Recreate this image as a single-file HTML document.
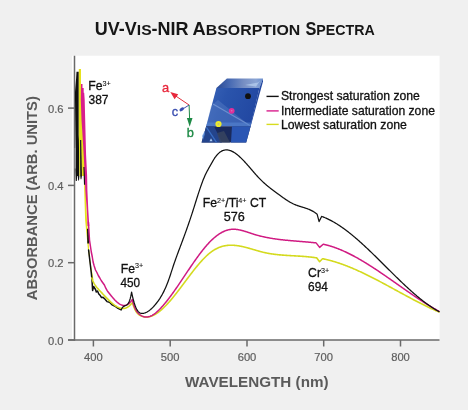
<!DOCTYPE html>
<html><head><meta charset="utf-8">
<style>
html,body{margin:0;padding:0;background:#f0f0f0;}
body{width:468px;height:410px;overflow:hidden;position:relative;}
svg{position:absolute;left:0;top:0;will-change:transform;}
text{font-family:"Liberation Sans",sans-serif;}
</style></head><body>
<svg width="468" height="410" viewBox="0 0 468 410">
<rect x="0" y="0" width="468" height="410" fill="#f0f0f0"/>
<rect x="72" y="55.7" width="367.6" height="284.3" fill="#ffffff"/>
<g font-size="17.6" font-weight="bold" fill="#161616">
<text x="94.8" y="34.7" textLength="93.8" lengthAdjust="spacingAndGlyphs">UV-V<tspan font-size="15.3">IS</tspan>-NIR</text>
<text x="192.6" y="34.7" textLength="107.6" lengthAdjust="spacingAndGlyphs">A<tspan font-size="15.3">BSORPTION</tspan></text>
<text x="305.4" y="34.7" textLength="69.4" lengthAdjust="spacingAndGlyphs">S<tspan font-size="15.3">PECTRA</tspan></text>
</g>
<g stroke="#6a6a6a" stroke-width="1.5" fill="none">
<line x1="74.5" y1="55.7" x2="74.5" y2="340.7"/>
<line x1="68" y1="340" x2="439.5" y2="340"/>
<line x1="93.4" y1="340" x2="93.4" y2="346.5"/><line x1="170.2" y1="340" x2="170.2" y2="346.5"/><line x1="247.0" y1="340" x2="247.0" y2="346.5"/><line x1="323.7" y1="340" x2="323.7" y2="346.5"/><line x1="400.5" y1="340" x2="400.5" y2="346.5"/><line x1="68" y1="340" x2="74.7" y2="340"/><line x1="68" y1="262.7" x2="74.7" y2="262.7"/><line x1="68" y1="185.4" x2="74.7" y2="185.4"/><line x1="68" y1="108.1" x2="74.7" y2="108.1"/>
</g>
<g font-size="11.2" fill="#5e5e5e" stroke="#5e5e5e" stroke-width="0.2" text-anchor="middle"><text x="93.4" y="361">400</text><text x="170.2" y="361">500</text><text x="247.0" y="361">600</text><text x="323.7" y="361">700</text><text x="400.5" y="361">800</text></g>
<g font-size="11.2" fill="#5e5e5e" stroke="#5e5e5e" stroke-width="0.2" text-anchor="end"><text x="63.5" y="344.5">0.0</text><text x="63.5" y="267.2">0.2</text><text x="63.5" y="189.9">0.4</text><text x="63.5" y="112.6">0.6</text></g>
<text transform="translate(36.8,198.2) rotate(-90)" text-anchor="middle" font-size="14.8" textLength="204" lengthAdjust="spacingAndGlyphs" font-weight="bold" fill="#5a5a5a">ABSORBANCE (ARB. UNITS)</text>
<text x="256.8" y="386.6" text-anchor="middle" font-size="15.2" font-weight="bold" fill="#5a5a5a" textLength="143.5" lengthAdjust="spacingAndGlyphs">WAVELENGTH (nm)</text>
<g fill="none" stroke-linejoin="round" stroke-linecap="round">
<polygon points="76.5,71.8 78.8,71.8 78.8,135.0 79.4,150.0 79.4,176.0 79.0,180.6 78.2,180.6 77.8,176.0 77.2,176.0 76.8,181.0 75.8,181.0 75.4,170.0 75.6,148.0 75.0,100.0 75.0,92.0 76.1,78.6" fill="#111"/>
<rect x="74.6" y="148" width="1.2" height="20.5" fill="#9a9a9a"/>
<polygon points="78.8,68.9 81.0,68.9 81.0,90.0 81.8,100.0 82.7,130.0 83.7,145.0 84.8,160.0 85.3,175.0 86.2,200.0 87.0,220.0 89.2,250.0 90.5,262.0 93.5,280.0 92.4,280.9 91.3,275.0 88.0,250.0 85.1,220.0 84.2,190.0 84.0,176.0 79.4,176.0 79.1,155.0 78.8,135.0" fill="#e6e21e"/>
<polygon points="80.0,140.0 81.2,140.0 82.0,176.0 81.4,179.3 80.6,179.3 80.2,176.0" fill="#222"/>
<polygon points="83.4,167.0 85.0,167.0 85.4,184.7 84.0,184.7" fill="#111"/>
<polygon points="81.0,84.0 82.5,84.0 82.5,88.0 83.7,88.0 83.7,92.7 84.2,92.7 84.7,100.0 85.7,140.0 86.1,155.0 87.1,175.0 87.4,190.0 88.3,210.0 89.3,226.0 87.5,226.0 86.8,210.0 85.3,190.0 84.8,175.0 83.7,155.0 82.7,138.0 81.5,120.0 80.8,100.0" fill="#d81e8c"/>
<polygon points="87.0,228.8 88.8,228.8 89.2,243.4 87.3,243.4" fill="#111"/>
<polyline points="88.6,250.0 90.0,262.0 91.2,272.0 92.0,280.0 92.6,290.5 93.6,286.5 95.5,289.5 96.3,292.0 97.5,291.0 98.8,294.0 100.0,295.2 101.5,297.6 103.0,297.2 104.4,298.6 107.0,301.6 109.5,302.3 112.0,304.8 114.6,306.0 118.0,308.3 121.2,309.8" stroke="#111" stroke-width="1.5"/>
<path d="M91.80,278.04 L92.30,279.53 L92.80,280.81 L93.30,281.94 L93.80,282.92 L94.30,283.81 L94.80,284.62 L95.30,285.37 L95.80,286.09 L96.30,286.76 L96.80,287.39 L97.30,288.00 L97.80,288.57 L98.30,289.13 L98.80,289.68 L99.30,290.21 L99.80,290.74 L100.30,291.27 L100.80,291.80 L101.30,292.34 L101.80,292.87 L102.30,293.41 L102.80,293.94 L103.30,294.48 L103.80,295.02 L104.30,295.55 L104.80,296.08 L105.30,296.61 L105.80,297.13 L106.30,297.65 L106.80,298.17 L107.30,298.68 L107.80,299.18 L108.30,299.68 L108.80,300.17 L109.30,300.66 L109.80,301.13 L110.30,301.60 L110.80,302.05 L111.30,302.50 L111.80,302.94 L112.30,303.36 L112.80,303.78 L113.30,304.18 L113.80,304.57 L114.30,304.94 L114.80,305.31 L115.30,305.65 L115.80,305.98 L116.30,306.30 L116.80,306.59 L117.30,306.87 L117.80,307.13 L118.30,307.37 L118.80,307.59 L119.30,307.79 L119.80,307.96 L120.30,308.12 L120.80,308.24 L121.30,308.35 L121.80,308.42 L122.30,308.47 L122.80,308.49 L123.30,308.49 L123.80,308.45 L124.30,308.39 L124.80,308.29 L125.30,308.16 L125.80,308.00 L126.30,307.80 L126.80,307.57 L127.30,307.31 L127.80,307.01 L128.30,306.67 L128.80,306.29 L129.30,305.88 L129.80,305.42 L130.30,304.93 L130.80,304.39 L131.30,303.82 L131.80,303.19 L132.30,302.53 L132.40,302.39 L132.90,304.14 L133.40,305.67 L133.90,307.05 L134.40,308.29 L134.90,309.40 L135.40,310.39 L135.90,311.26 L136.40,312.03 L136.90,312.71 L137.40,313.30 L137.90,313.81 L138.40,314.26 L138.90,314.64 L139.40,314.98 L139.90,315.28 L140.40,315.54 L140.90,315.78 L141.40,316.00 L141.90,316.19 L142.40,316.37 L142.90,316.52 L143.40,316.65 L143.90,316.76 L144.40,316.85 L144.90,316.92 L145.40,316.97 L145.90,317.00 L146.40,317.02 L146.90,317.01 L147.40,316.98 L147.90,316.94 L148.40,316.87 L148.90,316.79 L149.40,316.69 L149.90,316.58 L150.40,316.44 L150.90,316.29 L151.40,316.13 L151.90,315.95 L152.40,315.75 L152.90,315.54 L153.40,315.31 L153.90,315.06 L154.40,314.80 L154.90,314.53 L155.40,314.25 L155.90,313.95 L156.40,313.63 L156.90,313.30 L157.40,312.96 L157.90,312.61 L158.40,312.25 L158.90,311.87 L159.40,311.48 L159.90,311.08 L160.40,310.67 L160.90,310.25 L161.40,309.82 L161.90,309.38 L162.40,308.92 L162.90,308.46 L163.40,307.99 L163.90,307.51 L164.40,307.02 L164.90,306.52 L165.40,306.02 L165.90,305.50 L166.40,304.98 L166.90,304.45 L167.40,303.91 L167.90,303.36 L168.40,302.81 L168.90,302.25 L169.40,301.69 L169.90,301.11 L170.40,300.53 L170.90,299.95 L171.40,299.36 L171.90,298.76 L172.40,298.16 L172.90,297.55 L173.40,296.94 L173.90,296.32 L174.40,295.70 L174.90,295.07 L175.40,294.44 L175.90,293.81 L176.40,293.17 L176.90,292.53 L177.40,291.88 L177.90,291.23 L178.40,290.58 L178.90,289.93 L179.40,289.27 L179.90,288.61 L180.40,287.95 L180.90,287.29 L181.40,286.63 L181.90,285.96 L182.40,285.29 L182.90,284.62 L183.40,283.96 L183.90,283.29 L184.40,282.62 L184.90,281.95 L185.40,281.28 L185.90,280.61 L186.40,279.94 L186.90,279.27 L187.40,278.60 L187.90,277.94 L188.40,277.27 L188.90,276.61 L189.40,275.94 L189.90,275.28 L190.40,274.63 L190.90,273.97 L191.40,273.32 L191.90,272.67 L192.40,272.02 L192.90,271.38 L193.40,270.74 L193.90,270.10 L194.40,269.47 L194.90,268.84 L195.40,268.22 L195.90,267.60 L196.40,266.98 L196.90,266.37 L197.40,265.77 L197.90,265.17 L198.40,264.57 L198.90,263.98 L199.40,263.40 L199.90,262.83 L200.40,262.26 L200.90,261.69 L201.40,261.14 L201.90,260.59 L202.40,260.05 L202.90,259.51 L203.40,258.99 L203.90,258.47 L204.40,257.96 L204.90,257.45 L205.40,256.96 L205.90,256.48 L206.40,256.00 L206.90,255.53 L207.40,255.08 L207.90,254.63 L208.40,254.19 L208.90,253.76 L209.40,253.34 L209.90,252.94 L210.40,252.54 L210.90,252.16 L211.40,251.78 L211.90,251.42 L212.40,251.07 L212.90,250.73 L213.40,250.40 L213.90,250.08 L214.40,249.78 L214.90,249.48 L215.40,249.20 L215.90,248.93 L216.40,248.67 L216.90,248.42 L217.40,248.18 L217.90,247.95 L218.40,247.73 L218.90,247.52 L219.40,247.33 L219.90,247.14 L220.40,246.96 L220.90,246.79 L221.40,246.63 L221.90,246.48 L222.40,246.34 L222.90,246.21 L223.40,246.09 L223.90,245.97 L224.40,245.87 L224.90,245.77 L225.40,245.68 L225.90,245.60 L226.40,245.53 L226.90,245.47 L227.40,245.41 L227.90,245.36 L228.40,245.32 L228.90,245.28 L229.40,245.26 L229.90,245.24 L230.40,245.22 L230.90,245.22 L231.40,245.22 L231.90,245.22 L232.40,245.24 L232.90,245.26 L233.40,245.28 L233.90,245.31 L234.40,245.35 L234.90,245.39 L235.40,245.44 L235.90,245.49 L236.40,245.55 L236.90,245.61 L237.40,245.68 L237.90,245.75 L238.40,245.83 L238.90,245.91 L239.40,246.00 L239.90,246.09 L240.40,246.18 L240.90,246.28 L241.40,246.38 L241.90,246.48 L242.40,246.59 L242.90,246.70 L243.40,246.82 L243.90,246.94 L244.40,247.06 L244.90,247.18 L245.40,247.31 L245.90,247.43 L246.40,247.56 L246.90,247.70 L247.40,247.83 L247.90,247.97 L248.40,248.11 L248.90,248.24 L249.40,248.39 L249.90,248.53 L250.40,248.67 L250.90,248.81 L251.40,248.96 L251.90,249.10 L252.40,249.25 L252.90,249.40 L253.40,249.54 L253.90,249.69 L254.40,249.84 L254.90,249.98 L255.40,250.13 L255.90,250.27 L256.40,250.42 L256.90,250.56 L257.40,250.71 L257.90,250.85 L258.40,250.99 L258.90,251.13 L259.40,251.27 L259.90,251.40 L260.40,251.54 L260.90,251.67 L261.40,251.80 L261.90,251.93 L262.40,252.05 L262.90,252.17 L263.40,252.30 L263.90,252.41 L264.40,252.53 L264.90,252.64 L265.40,252.75 L265.90,252.85 L266.40,252.96 L266.90,253.06 L267.40,253.16 L267.90,253.25 L268.40,253.34 L268.90,253.43 L269.40,253.52 L269.90,253.61 L270.40,253.69 L270.90,253.77 L271.40,253.85 L271.90,253.92 L272.40,254.00 L272.90,254.07 L273.40,254.14 L273.90,254.21 L274.40,254.27 L274.90,254.34 L275.40,254.40 L275.90,254.46 L276.40,254.52 L276.90,254.57 L277.40,254.63 L277.90,254.68 L278.40,254.73 L278.90,254.78 L279.40,254.83 L279.90,254.88 L280.40,254.92 L280.90,254.97 L281.40,255.01 L281.90,255.05 L282.40,255.09 L282.90,255.13 L283.40,255.17 L283.90,255.21 L284.40,255.25 L284.90,255.28 L285.40,255.32 L285.90,255.35 L286.40,255.38 L286.90,255.42 L287.40,255.45 L287.90,255.48 L288.40,255.51 L288.90,255.54 L289.40,255.57 L289.90,255.60 L290.40,255.63 L290.90,255.66 L291.40,255.68 L291.90,255.71 L292.40,255.74 L292.90,255.77 L293.40,255.80 L293.90,255.82 L294.40,255.85 L294.90,255.88 L295.40,255.91 L295.90,255.93 L296.40,255.96 L296.90,255.99 L297.40,256.02 L297.90,256.05 L298.40,256.08 L298.90,256.11 L299.40,256.14 L299.90,256.17 L300.40,256.20 L300.90,256.23 L301.40,256.27 L301.90,256.30 L302.40,256.34 L302.90,256.37 L303.40,256.41 L303.90,256.45 L304.40,256.48 L304.90,256.52 L305.40,256.56 L305.90,256.61 L306.40,256.65 L306.90,256.69 L307.40,256.74 L307.90,256.79 L308.40,256.83 L308.90,256.88 L309.40,256.94 L309.90,256.99 L310.40,257.04 L310.90,257.10 L311.40,257.16 L311.90,257.22 L312.40,257.28 L312.90,257.34 L313.40,257.41 L313.90,257.48 L314.40,257.54 L314.90,257.62 L315.40,257.69 L315.90,257.77 L316.40,257.84 L316.80,257.91 L319.60,261.70 L322.50,258.70 L323.00,258.80 L323.50,258.90 L324.00,259.00 L324.50,259.11 L325.00,259.22 L325.50,259.33 L326.00,259.44 L326.50,259.56 L327.00,259.67 L327.50,259.79 L328.00,259.92 L328.50,260.04 L329.00,260.17 L329.50,260.30 L330.00,260.43 L330.50,260.56 L331.00,260.69 L331.50,260.83 L332.00,260.97 L332.50,261.11 L333.00,261.26 L333.50,261.40 L334.00,261.55 L334.50,261.70 L335.00,261.85 L335.50,262.00 L336.00,262.16 L336.50,262.32 L337.00,262.48 L337.50,262.64 L338.00,262.80 L338.50,262.96 L339.00,263.13 L339.50,263.30 L340.00,263.47 L340.50,263.64 L341.00,263.82 L341.50,263.99 L342.00,264.17 L342.50,264.35 L343.00,264.53 L343.50,264.71 L344.00,264.90 L344.50,265.09 L345.00,265.27 L345.50,265.46 L346.00,265.65 L346.50,265.85 L347.00,266.04 L347.50,266.24 L348.00,266.44 L348.50,266.63 L349.00,266.83 L349.50,267.04 L350.00,267.24 L350.50,267.45 L351.00,267.65 L351.50,267.86 L352.00,268.07 L352.50,268.28 L353.00,268.49 L353.50,268.71 L354.00,268.92 L354.50,269.14 L355.00,269.36 L355.50,269.58 L356.00,269.80 L356.50,270.02 L357.00,270.24 L357.50,270.47 L358.00,270.69 L358.50,270.92 L359.00,271.15 L359.50,271.38 L360.00,271.61 L360.50,271.84 L361.00,272.07 L361.50,272.31 L362.00,272.54 L362.50,272.78 L363.00,273.01 L363.50,273.25 L364.00,273.49 L364.50,273.73 L365.00,273.97 L365.50,274.22 L366.00,274.46 L366.50,274.70 L367.00,274.95 L367.50,275.19 L368.00,275.44 L368.50,275.69 L369.00,275.94 L369.50,276.19 L370.00,276.44 L370.50,276.69 L371.00,276.94 L371.50,277.20 L372.00,277.45 L372.50,277.70 L373.00,277.96 L373.50,278.22 L374.00,278.47 L374.50,278.73 L375.00,278.99 L375.50,279.25 L376.00,279.51 L376.50,279.77 L377.00,280.03 L377.50,280.29 L378.00,280.55 L378.50,280.82 L379.00,281.08 L379.50,281.34 L380.00,281.61 L380.50,281.87 L381.00,282.14 L381.50,282.40 L382.00,282.67 L382.50,282.94 L383.00,283.20 L383.50,283.47 L384.00,283.74 L384.50,284.01 L385.00,284.28 L385.50,284.55 L386.00,284.82 L386.50,285.09 L387.00,285.36 L387.50,285.63 L388.00,285.90 L388.50,286.17 L389.00,286.44 L389.50,286.71 L390.00,286.98 L390.50,287.25 L391.00,287.53 L391.50,287.80 L392.00,288.07 L392.50,288.34 L393.00,288.62 L393.50,288.89 L394.00,289.16 L394.50,289.43 L395.00,289.71 L395.50,289.98 L396.00,290.25 L396.50,290.53 L397.00,290.80 L397.50,291.07 L398.00,291.34 L398.50,291.62 L399.00,291.89 L399.50,292.16 L400.00,292.43 L400.50,292.71 L401.00,292.98 L401.50,293.25 L402.00,293.52 L402.50,293.79 L403.00,294.07 L403.50,294.34 L404.00,294.61 L404.50,294.88 L405.00,295.15 L405.50,295.42 L406.00,295.69 L406.50,295.96 L407.00,296.23 L407.50,296.50 L408.00,296.76 L408.50,297.03 L409.00,297.30 L409.50,297.57 L410.00,297.83 L410.50,298.10 L411.00,298.37 L411.50,298.63 L412.00,298.90 L412.50,299.16 L413.00,299.42 L413.50,299.69 L414.00,299.95 L414.50,300.21 L415.00,300.47 L415.50,300.73 L416.00,300.99 L416.50,301.25 L417.00,301.51 L417.50,301.77 L418.00,302.03 L418.50,302.28 L419.00,302.54 L419.50,302.80 L420.00,303.05 L420.50,303.30 L421.00,303.56 L421.50,303.81 L422.00,304.06 L422.50,304.31 L423.00,304.56 L423.50,304.81 L424.00,305.06 L424.50,305.30 L425.00,305.55 L425.50,305.79 L426.00,306.04 L426.50,306.28 L427.00,306.52 L427.50,306.77 L428.00,307.01 L428.50,307.24 L429.00,307.48 L429.50,307.72 L430.00,307.95 L430.50,308.19 L431.00,308.42 L431.50,308.66 L432.00,308.89 L432.50,309.12 L433.00,309.35 L433.50,309.57 L434.00,309.80 L434.50,310.03 L435.00,310.25 L435.50,310.47 L436.00,310.69 L436.50,310.91 L437.00,311.13 L437.50,311.35 L438.00,311.57 L438.50,311.78 L439.00,311.99" stroke="#d4da1e" stroke-width="1.6"/>
<path d="M88.40,222.00 L89.50,240.00 L91.30,252.00 L92.30,257.00 L93.10,262.00 L94.20,266.00 L95.50,270.00 L96.90,272.50 L98.30,275.50 L99.80,278.00 L101.20,280.50 L102.60,282.50 L104.40,285.00 L105.80,288.20 L107.30,290.90 L107.80,291.54 L108.30,292.18 L108.80,292.81 L109.30,293.44 L109.80,294.07 L110.30,294.70 L110.80,295.32 L111.30,295.93 L111.80,296.54 L112.30,297.13 L112.80,297.72 L113.30,298.29 L113.80,298.85 L114.30,299.39 L114.80,299.92 L115.30,300.44 L115.80,300.93 L116.30,301.41 L116.80,301.87 L117.30,302.30 L117.80,302.71 L118.30,303.10 L118.80,303.47 L119.30,303.80 L119.80,304.11 L120.30,304.39 L120.80,304.64 L121.30,304.86 L121.80,305.05 L122.30,305.20 L122.80,305.32 L123.30,305.41 L123.80,305.45 L124.30,305.46 L124.80,305.43 L125.30,305.35 L125.80,305.24 L126.30,305.08 L126.80,304.87 L127.30,304.62 L127.80,304.33 L128.30,303.98 L128.80,303.59 L129.30,303.15 L129.80,302.65 L130.30,302.10 L130.80,301.50 L131.30,300.84 L131.80,300.12 L132.20,299.51 L132.70,301.47 L133.20,303.21 L133.70,304.77 L134.20,306.17 L134.70,307.43 L135.20,308.56 L135.70,309.55 L136.20,310.44 L136.70,311.23 L137.20,311.93 L137.70,312.55 L138.20,313.11 L138.70,313.61 L139.20,314.07 L139.70,314.49 L140.20,314.88 L140.70,315.23 L141.20,315.55 L141.70,315.84 L142.20,316.09 L142.70,316.32 L143.20,316.51 L143.70,316.67 L144.20,316.80 L144.70,316.90 L145.20,316.98 L145.70,317.02 L146.20,317.04 L146.70,317.03 L147.20,316.99 L147.70,316.93 L148.20,316.84 L148.70,316.73 L149.20,316.59 L149.70,316.43 L150.20,316.25 L150.70,316.04 L151.20,315.82 L151.70,315.57 L152.20,315.30 L152.70,315.01 L153.20,314.70 L153.70,314.38 L154.20,314.03 L154.70,313.67 L155.20,313.29 L155.70,312.89 L156.20,312.48 L156.70,312.05 L157.20,311.61 L157.70,311.16 L158.20,310.69 L158.70,310.21 L159.20,309.71 L159.70,309.21 L160.20,308.69 L160.70,308.16 L161.20,307.63 L161.70,307.08 L162.20,306.52 L162.70,305.96 L163.20,305.39 L163.70,304.81 L164.20,304.22 L164.70,303.63 L165.20,303.02 L165.70,302.42 L166.20,301.80 L166.70,301.17 L167.20,300.54 L167.70,299.91 L168.20,299.26 L168.70,298.61 L169.20,297.96 L169.70,297.30 L170.20,296.63 L170.70,295.96 L171.20,295.28 L171.70,294.60 L172.20,293.91 L172.70,293.22 L173.20,292.52 L173.70,291.82 L174.20,291.11 L174.70,290.41 L175.20,289.69 L175.70,288.98 L176.20,288.26 L176.70,287.53 L177.20,286.81 L177.70,286.08 L178.20,285.35 L178.70,284.61 L179.20,283.88 L179.70,283.14 L180.20,282.40 L180.70,281.66 L181.20,280.91 L181.70,280.17 L182.20,279.42 L182.70,278.68 L183.20,277.93 L183.70,277.18 L184.20,276.43 L184.70,275.68 L185.20,274.94 L185.70,274.19 L186.20,273.44 L186.70,272.69 L187.20,271.94 L187.70,271.20 L188.20,270.45 L188.70,269.71 L189.20,268.97 L189.70,268.23 L190.20,267.49 L190.70,266.75 L191.20,266.02 L191.70,265.28 L192.20,264.55 L192.70,263.83 L193.20,263.10 L193.70,262.38 L194.20,261.66 L194.70,260.95 L195.20,260.24 L195.70,259.53 L196.20,258.83 L196.70,258.13 L197.20,257.44 L197.70,256.75 L198.20,256.07 L198.70,255.39 L199.20,254.71 L199.70,254.04 L200.20,253.38 L200.70,252.72 L201.20,252.07 L201.70,251.43 L202.20,250.79 L202.70,250.15 L203.20,249.53 L203.70,248.91 L204.20,248.30 L204.70,247.69 L205.20,247.09 L205.70,246.50 L206.20,245.92 L206.70,245.35 L207.20,244.78 L207.70,244.22 L208.20,243.67 L208.70,243.13 L209.20,242.60 L209.70,242.08 L210.20,241.57 L210.70,241.06 L211.20,240.57 L211.70,240.08 L212.20,239.61 L212.70,239.14 L213.20,238.68 L213.70,238.24 L214.20,237.80 L214.70,237.37 L215.20,236.96 L215.70,236.55 L216.20,236.15 L216.70,235.76 L217.20,235.39 L217.70,235.02 L218.20,234.67 L218.70,234.32 L219.20,233.99 L219.70,233.66 L220.20,233.35 L220.70,233.05 L221.20,232.76 L221.70,232.48 L222.20,232.21 L222.70,231.95 L223.20,231.71 L223.70,231.47 L224.20,231.25 L224.70,231.04 L225.20,230.84 L225.70,230.65 L226.20,230.47 L226.70,230.31 L227.20,230.16 L227.70,230.02 L228.20,229.89 L228.70,229.77 L229.20,229.67 L229.70,229.57 L230.20,229.50 L230.70,229.43 L231.20,229.37 L231.70,229.33 L232.20,229.30 L232.70,229.28 L233.20,229.27 L233.70,229.27 L234.20,229.28 L234.70,229.30 L235.20,229.33 L235.70,229.37 L236.20,229.42 L236.70,229.47 L237.20,229.54 L237.70,229.61 L238.20,229.69 L238.70,229.78 L239.20,229.88 L239.70,229.98 L240.20,230.08 L240.70,230.20 L241.20,230.32 L241.70,230.44 L242.20,230.57 L242.70,230.71 L243.20,230.84 L243.70,230.99 L244.20,231.13 L244.70,231.28 L245.20,231.44 L245.70,231.59 L246.20,231.75 L246.70,231.91 L247.20,232.07 L247.70,232.24 L248.20,232.40 L248.70,232.57 L249.20,232.73 L249.70,232.90 L250.20,233.07 L250.70,233.23 L251.20,233.40 L251.70,233.56 L252.20,233.73 L252.70,233.89 L253.20,234.05 L253.70,234.21 L254.20,234.36 L254.70,234.51 L255.20,234.66 L255.70,234.81 L256.20,234.95 L256.70,235.10 L257.20,235.24 L257.70,235.37 L258.20,235.51 L258.70,235.64 L259.20,235.77 L259.70,235.90 L260.20,236.03 L260.70,236.15 L261.20,236.27 L261.70,236.39 L262.20,236.51 L262.70,236.62 L263.20,236.74 L263.70,236.85 L264.20,236.96 L264.70,237.07 L265.20,237.17 L265.70,237.28 L266.20,237.38 L266.70,237.48 L267.20,237.57 L267.70,237.67 L268.20,237.77 L268.70,237.86 L269.20,237.95 L269.70,238.04 L270.20,238.13 L270.70,238.21 L271.20,238.30 L271.70,238.38 L272.20,238.46 L272.70,238.54 L273.20,238.62 L273.70,238.70 L274.20,238.77 L274.70,238.85 L275.20,238.92 L275.70,238.99 L276.20,239.06 L276.70,239.13 L277.20,239.20 L277.70,239.26 L278.20,239.33 L278.70,239.39 L279.20,239.45 L279.70,239.52 L280.20,239.58 L280.70,239.64 L281.20,239.69 L281.70,239.75 L282.20,239.81 L282.70,239.86 L283.20,239.92 L283.70,239.97 L284.20,240.03 L284.70,240.08 L285.20,240.13 L285.70,240.18 L286.20,240.23 L286.70,240.28 L287.20,240.33 L287.70,240.37 L288.20,240.42 L288.70,240.47 L289.20,240.51 L289.70,240.56 L290.20,240.60 L290.70,240.65 L291.20,240.69 L291.70,240.73 L292.20,240.78 L292.70,240.82 L293.20,240.86 L293.70,240.90 L294.20,240.95 L294.70,240.99 L295.20,241.03 L295.70,241.07 L296.20,241.11 L296.70,241.15 L297.20,241.19 L297.70,241.23 L298.20,241.27 L298.70,241.31 L299.20,241.35 L299.70,241.39 L300.20,241.43 L300.70,241.47 L301.20,241.51 L301.70,241.55 L302.20,241.59 L302.70,241.64 L303.20,241.68 L303.70,241.72 L304.20,241.76 L304.70,241.80 L305.20,241.84 L305.70,241.89 L306.20,241.93 L306.70,241.97 L307.20,242.02 L307.70,242.06 L308.20,242.11 L308.70,242.15 L309.20,242.20 L309.70,242.24 L310.20,242.29 L310.70,242.34 L311.20,242.39 L311.70,242.44 L312.20,242.49 L312.70,242.54 L313.20,242.59 L313.70,242.64 L314.20,242.69 L314.70,242.75 L315.20,242.80 L315.70,242.86 L316.10,242.90 L319.60,247.40 L323.20,244.20 L323.70,244.30 L324.20,244.41 L324.70,244.53 L325.20,244.65 L325.70,244.77 L326.20,244.90 L326.70,245.02 L327.20,245.16 L327.70,245.29 L328.20,245.43 L328.70,245.57 L329.20,245.71 L329.70,245.86 L330.20,246.01 L330.70,246.16 L331.20,246.32 L331.70,246.47 L332.20,246.64 L332.70,246.80 L333.20,246.97 L333.70,247.14 L334.20,247.31 L334.70,247.49 L335.20,247.67 L335.70,247.85 L336.20,248.03 L336.70,248.22 L337.20,248.41 L337.70,248.60 L338.20,248.79 L338.70,248.99 L339.20,249.19 L339.70,249.39 L340.20,249.60 L340.70,249.81 L341.20,250.02 L341.70,250.23 L342.20,250.45 L342.70,250.66 L343.20,250.88 L343.70,251.11 L344.20,251.33 L344.70,251.56 L345.20,251.79 L345.70,252.02 L346.20,252.25 L346.70,252.49 L347.20,252.73 L347.70,252.97 L348.20,253.21 L348.70,253.46 L349.20,253.71 L349.70,253.95 L350.20,254.21 L350.70,254.46 L351.20,254.72 L351.70,254.97 L352.20,255.23 L352.70,255.50 L353.20,255.76 L353.70,256.03 L354.20,256.29 L354.70,256.56 L355.20,256.84 L355.70,257.11 L356.20,257.38 L356.70,257.66 L357.20,257.94 L357.70,258.22 L358.20,258.50 L358.70,258.79 L359.20,259.07 L359.70,259.36 L360.20,259.65 L360.70,259.94 L361.20,260.24 L361.70,260.53 L362.20,260.83 L362.70,261.12 L363.20,261.42 L363.70,261.72 L364.20,262.02 L364.70,262.33 L365.20,262.63 L365.70,262.94 L366.20,263.25 L366.70,263.56 L367.20,263.87 L367.70,264.18 L368.20,264.49 L368.70,264.81 L369.20,265.12 L369.70,265.44 L370.20,265.76 L370.70,266.07 L371.20,266.40 L371.70,266.72 L372.20,267.04 L372.70,267.36 L373.20,267.69 L373.70,268.01 L374.20,268.34 L374.70,268.67 L375.20,269.00 L375.70,269.33 L376.20,269.66 L376.70,269.99 L377.20,270.33 L377.70,270.66 L378.20,270.99 L378.70,271.33 L379.20,271.67 L379.70,272.00 L380.20,272.34 L380.70,272.68 L381.20,273.02 L381.70,273.36 L382.20,273.70 L382.70,274.04 L383.20,274.38 L383.70,274.73 L384.20,275.07 L384.70,275.41 L385.20,275.76 L385.70,276.10 L386.20,276.45 L386.70,276.79 L387.20,277.14 L387.70,277.49 L388.20,277.83 L388.70,278.18 L389.20,278.53 L389.70,278.88 L390.20,279.23 L390.70,279.58 L391.20,279.93 L391.70,280.28 L392.20,280.63 L392.70,280.98 L393.20,281.33 L393.70,281.68 L394.20,282.03 L394.70,282.38 L395.20,282.73 L395.70,283.08 L396.20,283.43 L396.70,283.78 L397.20,284.13 L397.70,284.48 L398.20,284.84 L398.70,285.19 L399.20,285.54 L399.70,285.89 L400.20,286.24 L400.70,286.59 L401.20,286.94 L401.70,287.29 L402.20,287.64 L402.70,287.99 L403.20,288.34 L403.70,288.69 L404.20,289.04 L404.70,289.39 L405.20,289.74 L405.70,290.08 L406.20,290.43 L406.70,290.78 L407.20,291.13 L407.70,291.47 L408.20,291.82 L408.70,292.16 L409.20,292.51 L409.70,292.85 L410.20,293.20 L410.70,293.54 L411.20,293.88 L411.70,294.22 L412.20,294.57 L412.70,294.91 L413.20,295.25 L413.70,295.59 L414.20,295.92 L414.70,296.26 L415.20,296.60 L415.70,296.93 L416.20,297.27 L416.70,297.60 L417.20,297.94 L417.70,298.27 L418.20,298.60 L418.70,298.93 L419.20,299.26 L419.70,299.59 L420.20,299.92 L420.70,300.25 L421.20,300.57 L421.70,300.90 L422.20,301.22 L422.70,301.54 L423.20,301.87 L423.70,302.19 L424.20,302.50 L424.70,302.82 L425.20,303.14 L425.70,303.45 L426.20,303.77 L426.70,304.08 L427.20,304.39 L427.70,304.70 L428.20,305.01 L428.70,305.32 L429.20,305.62 L429.70,305.93 L430.20,306.23 L430.70,306.53 L431.20,306.83 L431.70,307.13 L432.20,307.43 L432.70,307.73 L433.20,308.02 L433.70,308.31 L434.20,308.60 L434.70,308.89 L435.20,309.18 L435.70,309.46 L436.20,309.75 L436.70,310.03 L437.20,310.31 L437.70,310.59 L438.20,310.87 L438.70,311.14 L439.00,311.31" stroke="#d01a82" stroke-width="1.5"/>
<path d="M121.20,309.81 L121.70,308.76 L122.20,307.93 L122.70,307.28 L123.20,306.78 L123.70,306.40 L124.20,306.11 L124.70,305.89 L125.20,305.69 L125.70,305.50 L126.20,305.28 L126.70,305.00 L127.20,304.62 L127.70,304.13 L128.20,303.49 L128.70,302.65 L129.20,301.59 L129.70,300.26 L130.20,298.64 L130.70,296.69 L131.20,294.36 L131.60,292.21 L132.10,294.57 L132.60,296.80 L133.10,298.86 L133.60,300.76 L134.10,302.51 L134.60,304.09 L135.10,305.53 L135.60,306.83 L136.10,307.98 L136.60,309.00 L137.10,309.90 L137.60,310.67 L138.10,311.33 L138.60,311.89 L139.10,312.35 L139.60,312.73 L140.10,313.01 L140.60,313.22 L141.10,313.37 L141.60,313.45 L142.10,313.47 L142.60,313.45 L143.10,313.39 L143.60,313.29 L144.10,313.17 L144.60,313.02 L145.10,312.85 L145.60,312.65 L146.10,312.43 L146.60,312.19 L147.10,311.93 L147.60,311.64 L148.10,311.33 L148.60,311.00 L149.10,310.64 L149.60,310.27 L150.10,309.87 L150.60,309.46 L151.10,309.02 L151.60,308.57 L152.10,308.09 L152.60,307.60 L153.10,307.09 L153.60,306.56 L154.10,306.01 L154.60,305.44 L155.10,304.86 L155.60,304.26 L156.10,303.64 L156.60,303.01 L157.10,302.36 L157.60,301.70 L158.10,301.01 L158.60,300.31 L159.10,299.58 L159.60,298.84 L160.10,298.06 L160.60,297.27 L161.10,296.44 L161.60,295.59 L162.10,294.71 L162.60,293.80 L163.10,292.86 L163.60,291.88 L164.10,290.87 L164.60,289.83 L165.10,288.75 L165.60,287.63 L166.10,286.48 L166.60,285.28 L167.10,284.04 L167.60,282.76 L168.10,281.44 L168.60,280.06 L169.10,278.65 L169.60,277.20 L170.10,275.71 L170.60,274.21 L171.10,272.68 L171.60,271.15 L172.10,269.61 L172.60,268.08 L173.10,266.56 L173.60,265.05 L174.10,263.57 L174.60,262.12 L175.10,260.68 L175.60,259.27 L176.10,257.87 L176.60,256.50 L177.10,255.13 L177.60,253.78 L178.10,252.43 L178.60,251.09 L179.10,249.76 L179.60,248.43 L180.10,247.11 L180.60,245.78 L181.10,244.44 L181.60,243.11 L182.10,241.77 L182.60,240.42 L183.10,239.08 L183.60,237.72 L184.10,236.36 L184.60,234.99 L185.10,233.62 L185.60,232.23 L186.10,230.84 L186.60,229.44 L187.10,228.03 L187.60,226.62 L188.10,225.19 L188.60,223.75 L189.10,222.30 L189.60,220.83 L190.10,219.36 L190.60,217.87 L191.10,216.37 L191.60,214.86 L192.10,213.33 L192.60,211.79 L193.10,210.23 L193.60,208.66 L194.10,207.08 L194.60,205.50 L195.10,203.91 L195.60,202.31 L196.10,200.73 L196.60,199.14 L197.10,197.56 L197.60,195.99 L198.10,194.43 L198.60,192.89 L199.10,191.37 L199.60,189.86 L200.10,188.38 L200.60,186.92 L201.10,185.49 L201.60,184.09 L202.10,182.72 L202.60,181.39 L203.10,180.10 L203.60,178.85 L204.10,177.65 L204.60,176.49 L205.10,175.37 L205.60,174.30 L206.10,173.27 L206.60,172.27 L207.10,171.30 L207.60,170.35 L208.10,169.43 L208.60,168.52 L209.10,167.62 L209.60,166.73 L210.10,165.85 L210.60,164.97 L211.10,164.08 L211.60,163.20 L212.10,162.32 L212.60,161.45 L213.10,160.60 L213.60,159.78 L214.10,158.97 L214.60,158.20 L215.10,157.46 L215.60,156.76 L216.10,156.10 L216.60,155.48 L217.10,154.89 L217.60,154.34 L218.10,153.82 L218.60,153.34 L219.10,152.89 L219.60,152.48 L220.10,152.10 L220.60,151.76 L221.10,151.44 L221.60,151.16 L222.10,150.90 L222.60,150.68 L223.10,150.49 L223.60,150.32 L224.10,150.19 L224.60,150.08 L225.10,150.00 L225.60,149.94 L226.10,149.91 L226.60,149.91 L227.10,149.93 L227.60,149.97 L228.10,150.04 L228.60,150.13 L229.10,150.25 L229.60,150.38 L230.10,150.53 L230.60,150.71 L231.10,150.90 L231.60,151.12 L232.10,151.35 L232.60,151.60 L233.10,151.87 L233.60,152.15 L234.10,152.45 L234.60,152.77 L235.10,153.10 L235.60,153.45 L236.10,153.81 L236.60,154.19 L237.10,154.57 L237.60,154.98 L238.10,155.39 L238.60,155.82 L239.10,156.26 L239.60,156.71 L240.10,157.17 L240.60,157.64 L241.10,158.12 L241.60,158.61 L242.10,159.11 L242.60,159.62 L243.10,160.13 L243.60,160.66 L244.10,161.19 L244.60,161.72 L245.10,162.27 L245.60,162.82 L246.10,163.37 L246.60,163.93 L247.10,164.49 L247.60,165.06 L248.10,165.63 L248.60,166.21 L249.10,166.78 L249.60,167.36 L250.10,167.94 L250.60,168.52 L251.10,169.11 L251.60,169.69 L252.10,170.27 L252.60,170.85 L253.10,171.43 L253.60,172.01 L254.10,172.59 L254.60,173.16 L255.10,173.73 L255.60,174.30 L256.10,174.86 L256.60,175.42 L257.10,175.98 L257.60,176.53 L258.10,177.07 L258.60,177.61 L259.10,178.14 L259.60,178.66 L260.10,179.18 L260.60,179.68 L261.10,180.18 L261.60,180.67 L262.10,181.16 L262.60,181.63 L263.10,182.10 L263.60,182.56 L264.10,183.01 L264.60,183.46 L265.10,183.90 L265.60,184.33 L266.10,184.76 L266.60,185.19 L267.10,185.60 L267.60,186.02 L268.10,186.42 L268.60,186.83 L269.10,187.23 L269.60,187.62 L270.10,188.01 L270.60,188.40 L271.10,188.79 L271.60,189.17 L272.10,189.55 L272.60,189.93 L273.10,190.30 L273.60,190.67 L274.10,191.05 L274.60,191.42 L275.10,191.79 L275.60,192.15 L276.10,192.52 L276.60,192.89 L277.10,193.26 L277.60,193.63 L278.10,194.00 L278.60,194.37 L279.10,194.73 L279.60,195.10 L280.10,195.47 L280.60,195.84 L281.10,196.20 L281.60,196.57 L282.10,196.93 L282.60,197.29 L283.10,197.65 L283.60,198.00 L284.10,198.35 L284.60,198.70 L285.10,199.04 L285.60,199.38 L286.10,199.72 L286.60,200.05 L287.10,200.38 L287.60,200.70 L288.10,201.02 L288.60,201.33 L289.10,201.63 L289.60,201.93 L290.10,202.22 L290.60,202.50 L291.10,202.78 L291.60,203.05 L292.10,203.31 L292.60,203.56 L293.10,203.81 L293.60,204.04 L294.10,204.27 L294.60,204.49 L295.10,204.70 L295.60,204.90 L296.10,205.09 L296.60,205.28 L297.10,205.46 L297.60,205.64 L298.10,205.81 L298.60,205.97 L299.10,206.14 L299.60,206.30 L300.10,206.45 L300.60,206.61 L301.10,206.76 L301.60,206.91 L302.10,207.06 L302.60,207.21 L303.10,207.36 L303.60,207.51 L304.10,207.67 L304.60,207.83 L305.10,207.99 L305.60,208.15 L306.10,208.32 L306.60,208.49 L307.10,208.67 L307.60,208.85 L308.10,209.04 L308.60,209.23 L309.10,209.44 L309.60,209.65 L310.10,209.87 L310.60,210.10 L311.10,210.34 L311.60,210.59 L312.10,210.85 L312.60,211.12 L313.10,211.41 L313.60,211.70 L314.10,212.01 L314.60,212.34 L315.10,212.68 L315.60,213.03 L316.10,213.40 L316.60,213.78 L317.10,214.18 L317.10,214.18 L319.10,221.60 L321.60,216.40 L322.10,216.56 L322.60,216.74 L323.10,216.93 L323.60,217.13 L324.10,217.33 L324.60,217.53 L325.10,217.74 L325.60,217.96 L326.10,218.17 L326.60,218.40 L327.10,218.62 L327.60,218.86 L328.10,219.09 L328.60,219.34 L329.10,219.58 L329.60,219.83 L330.10,220.09 L330.60,220.35 L331.10,220.61 L331.60,220.88 L332.10,221.15 L332.60,221.43 L333.10,221.71 L333.60,221.99 L334.10,222.28 L334.60,222.57 L335.10,222.87 L335.60,223.17 L336.10,223.47 L336.60,223.78 L337.10,224.09 L337.60,224.41 L338.10,224.73 L338.60,225.05 L339.10,225.38 L339.60,225.71 L340.10,226.04 L340.60,226.38 L341.10,226.72 L341.60,227.07 L342.10,227.42 L342.60,227.77 L343.10,228.12 L343.60,228.48 L344.10,228.84 L344.60,229.21 L345.10,229.58 L345.60,229.95 L346.10,230.32 L346.60,230.70 L347.10,231.08 L347.60,231.46 L348.10,231.85 L348.60,232.24 L349.10,232.63 L349.60,233.03 L350.10,233.43 L350.60,233.83 L351.10,234.23 L351.60,234.64 L352.10,235.05 L352.60,235.46 L353.10,235.87 L353.60,236.29 L354.10,236.71 L354.60,237.13 L355.10,237.55 L355.60,237.98 L356.10,238.41 L356.60,238.84 L357.10,239.27 L357.60,239.71 L358.10,240.15 L358.60,240.59 L359.10,241.03 L359.60,241.47 L360.10,241.92 L360.60,242.37 L361.10,242.82 L361.60,243.27 L362.10,243.72 L362.60,244.18 L363.10,244.64 L363.60,245.10 L364.10,245.56 L364.60,246.02 L365.10,246.48 L365.60,246.95 L366.10,247.42 L366.60,247.89 L367.10,248.36 L367.60,248.83 L368.10,249.30 L368.60,249.78 L369.10,250.25 L369.60,250.73 L370.10,251.21 L370.60,251.69 L371.10,252.17 L371.60,252.65 L372.10,253.14 L372.60,253.62 L373.10,254.11 L373.60,254.59 L374.10,255.08 L374.60,255.57 L375.10,256.06 L375.60,256.55 L376.10,257.04 L376.60,257.53 L377.10,258.02 L377.60,258.51 L378.10,259.00 L378.60,259.50 L379.10,259.99 L379.60,260.49 L380.10,260.98 L380.60,261.48 L381.10,261.98 L381.60,262.47 L382.10,262.97 L382.60,263.47 L383.10,263.96 L383.60,264.46 L384.10,264.96 L384.60,265.46 L385.10,265.95 L385.60,266.45 L386.10,266.95 L386.60,267.45 L387.10,267.94 L387.60,268.44 L388.10,268.94 L388.60,269.44 L389.10,269.93 L389.60,270.43 L390.10,270.93 L390.60,271.42 L391.10,271.92 L391.60,272.41 L392.10,272.91 L392.60,273.40 L393.10,273.90 L393.60,274.39 L394.10,274.88 L394.60,275.37 L395.10,275.86 L395.60,276.35 L396.10,276.84 L396.60,277.33 L397.10,277.82 L397.60,278.31 L398.10,278.79 L398.60,279.28 L399.10,279.76 L399.60,280.24 L400.10,280.73 L400.60,281.21 L401.10,281.69 L401.60,282.16 L402.10,282.64 L402.60,283.12 L403.10,283.59 L403.60,284.06 L404.10,284.54 L404.60,285.01 L405.10,285.47 L405.60,285.94 L406.10,286.41 L406.60,286.87 L407.10,287.33 L407.60,287.79 L408.10,288.25 L408.60,288.71 L409.10,289.16 L409.60,289.62 L410.10,290.07 L410.60,290.52 L411.10,290.96 L411.60,291.41 L412.10,291.85 L412.60,292.29 L413.10,292.73 L413.60,293.17 L414.10,293.61 L414.60,294.04 L415.10,294.47 L415.60,294.90 L416.10,295.32 L416.60,295.74 L417.10,296.17 L417.60,296.58 L418.10,297.00 L418.60,297.41 L419.10,297.82 L419.60,298.23 L420.10,298.64 L420.60,299.04 L421.10,299.44 L421.60,299.84 L422.10,300.23 L422.60,300.62 L423.10,301.01 L423.60,301.40 L424.10,301.78 L424.60,302.16 L425.10,302.53 L425.60,302.91 L426.10,303.28 L426.60,303.64 L427.10,304.01 L427.60,304.37 L428.10,304.73 L428.60,305.08 L429.10,305.43 L429.60,305.78 L430.10,306.12 L430.60,306.46 L431.10,306.80 L431.60,307.13 L432.10,307.46 L432.60,307.78 L433.10,308.11 L433.60,308.42 L434.10,308.74 L434.60,309.05 L435.10,309.36 L435.60,309.66 L436.10,309.96 L436.60,310.25 L437.10,310.54 L437.60,310.83 L438.10,311.11 L438.60,311.39 L439.00,311.61" stroke="#111" stroke-width="1.25"/>
</g>
<g font-size="12.2" fill="#111" stroke="#111" stroke-width="0.3">
<text x="88.3" y="89.9">Fe<tspan font-size="7.2" dy="-4.3" stroke-width="0.1">3+</tspan></text>
<text x="88.5" y="104.3" textLength="20" lengthAdjust="spacingAndGlyphs">387</text>
<text x="120.7" y="272.7">Fe<tspan font-size="7.2" dy="-4.3" stroke-width="0.1">3+</tspan></text>
<text x="120.4" y="287.1" textLength="19.6" lengthAdjust="spacingAndGlyphs">450</text>
<text x="234.5" y="206.8" text-anchor="middle">Fe<tspan font-size="7.2" dy="-4.3" stroke-width="0.1">2+</tspan><tspan dy="4.3">/Ti</tspan><tspan font-size="7.2" dy="-4.3" stroke-width="0.1">4+</tspan><tspan dy="4.3"> CT</tspan></text>
<text x="234.3" y="221.3" text-anchor="middle" textLength="21" lengthAdjust="spacingAndGlyphs">576</text>
<text x="308.1" y="277">Cr<tspan font-size="7.2" dy="-4.3" stroke-width="0.1">3+</tspan></text>
<text x="308.1" y="290.9" textLength="19.8" lengthAdjust="spacingAndGlyphs">694</text>
</g>
<g stroke-width="1.4">
<line x1="266.5" y1="96.4" x2="278.7" y2="96.4" stroke="#111"/>
<line x1="266.5" y1="110.9" x2="278.7" y2="110.9" stroke="#d81e8c"/>
<line x1="266.5" y1="124.4" x2="278.7" y2="124.4" stroke="#d8dc1e"/>
</g>
<g font-size="12.2" fill="#111" stroke="#111" stroke-width="0.3">
<text x="280.9" y="100.4" textLength="139" lengthAdjust="spacingAndGlyphs">Strongest saturation zone</text>
<text x="280.9" y="114.5" textLength="154" lengthAdjust="spacingAndGlyphs">Intermediate saturation zone</text>
<text x="280.9" y="128.6" textLength="126" lengthAdjust="spacingAndGlyphs">Lowest saturation zone</text>
</g>
<!-- crystal -->
<defs>
<linearGradient id="gtop" x1="0" y1="0" x2="1" y2="0">
<stop offset="0" stop-color="#2a4a94"/><stop offset="0.3" stop-color="#4a6cb4"/><stop offset="0.6" stop-color="#7890c4"/><stop offset="0.85" stop-color="#8aa4d4"/><stop offset="1" stop-color="#6a90d0"/>
</linearGradient>
<linearGradient id="gfront" x1="0" y1="0" x2="1" y2="0.3">
<stop offset="0" stop-color="#3a64b8"/><stop offset="0.4" stop-color="#2a54ac"/><stop offset="1" stop-color="#2248a2"/>
</linearGradient>
<linearGradient id="gbot" x1="0" y1="0" x2="1" y2="0">
<stop offset="0" stop-color="#1e3270"/><stop offset="0.6" stop-color="#1a2658"/><stop offset="1" stop-color="#22409a"/>
</linearGradient>
</defs>
<polygon points="216.4,88 226.9,78.4 262.9,78.4 259.4,88" fill="url(#gtop)"/>
<polygon points="245,85 258,82.5 260.5,80 256,86.5" fill="#b8d0f0" opacity="0.7"/>
<polygon points="262.9,78.4 263,81.5 246.2,142.4 259.4,88" fill="#2448a0"/>
<polygon points="216.4,88 259.4,88 250.5,126.3 206.2,126.3" fill="url(#gfront)"/>
<polygon points="211,106 218,100 250.5,126.3 206.2,126.3" fill="#6a90d0" opacity="0.32"/>
<line x1="213" y1="104" x2="250" y2="125.5" stroke="#9ab8e8" stroke-width="1.2" opacity="0.5"/>
<polygon points="207.2,122.5 251.4,122.5 250.5,126.3 206.2,126.3" fill="#5a88d4" opacity="0.55"/>
<polygon points="206.2,126.3 250.5,126.3 246.2,142.4 201.6,142.4" fill="#1a2a5c"/>
<polygon points="206.2,126.3 214,126.3 222,142.4 201.6,142.4" fill="#24448c"/>
<polygon points="232,126.3 250.5,126.3 246.2,142.4 231,142.4" fill="#2a56b4"/>
<polygon points="217,133 224,131 230,142.4 220,142.4" fill="#3a4660" opacity="0.8"/>
<polygon points="205.8,127.5 207,127 217.4,142.4 215.8,142.4" fill="#3a70c8" opacity="0.9"/>
<polygon points="202,136 204.6,131 205,134 203,140" fill="#5a90e0" opacity="0.7"/>
<polygon points="209.5,141.2 211,138.2 212.6,141.2" fill="#a8c8f0"/>
<circle cx="248" cy="96.2" r="2.9" fill="#111"/>
<circle cx="231.7" cy="110.8" r="2.9" fill="#e0309a"/>
<circle cx="231.7" cy="110.8" r="0.8" fill="#c880b8"/>
<circle cx="218.5" cy="124" r="3.1" fill="#ecea2c"/>
<circle cx="218.5" cy="124" r="1" fill="#c0c080"/>
<!-- axes arrows -->
<g stroke-width="1" fill="none">
<line x1="189.1" y1="105" x2="175" y2="95.5" stroke="#e0303c"/>
<line x1="189.1" y1="105" x2="182" y2="109.5" stroke="#3a50b0"/>
<line x1="189.1" y1="105" x2="189.6" y2="119" stroke="#208a46"/>
</g>
<polygon points="170.3,92 178.2,94.2 174.6,99.2" fill="#e8283c"/>
<ellipse cx="181.8" cy="109.3" rx="2.6" ry="1.6" transform="rotate(-35 181.8 109.3)" fill="#3a50b0"/>
<polygon points="189.7,126.7 186.9,118 192.5,118" fill="#1e8a46"/>
<g font-size="12.8">
<text x="165.5" y="92" text-anchor="middle" fill="#e8283c" stroke="#e8283c" stroke-width="0.35">a</text>
<text x="175" y="116" text-anchor="middle" fill="#3a4eb0" stroke="#3a4eb0" stroke-width="0.35">c</text>
<text x="190.2" y="137.2" text-anchor="middle" fill="#1e8a46" stroke="#1e8a46" stroke-width="0.35">b</text>
</g>
</svg>
</body></html>
